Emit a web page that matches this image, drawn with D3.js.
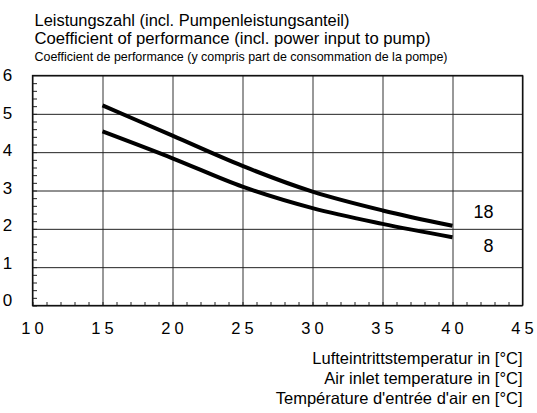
<!DOCTYPE html>
<html>
<head>
  <meta charset="utf-8">
  <title>COP chart</title>
  <script src="https://cdn.jsdelivr.net/npm/d3@7/dist/d3.min.js"></script>
  <style>
    body { margin: 0; background: #fff; }
    text { font-family: Arial, "Liberation Sans", sans-serif; fill: #000; }
  </style>
</head>
<body>
<script>
// data
var temps = [15, 20, 25, 30, 35, 40];
var cop18 = [5.22, 4.43, 3.64, 2.97, 2.48, 2.08];
var cop8 = [4.54, 3.84, 3.10, 2.54, 2.13, 1.78];
var seriesNames = ["18", "8"];
var xTicks = [10, 15, 20, 25, 30, 35, 40, 45];
var yTicks = [0, 1, 2, 3, 4, 5, 6];
var titleLines = [
  "Leistungszahl (incl. Pumpenleistungsanteil)",
  "Coefficient of performance (incl. power input to pump)",
  "Coefficient de performance (y compris part de consommation de la pompe)"
];
var xTitleLines = [
  "Lufteintrittstemperatur in [°C]",
  "Air inlet temperature in [°C]",
  "Température d'entrée d'air en [°C]"
];

var w = 537, h = 413;
var svg = d3.select("body").append("svg").attr("width", w).attr("height", h);

var x = d3.scaleLinear().domain([10, 45]).range([32.5, 522.5]);
var y = d3.scaleLinear().domain([0, 6]).range([305.5, 75.5]);
// the y numbers sit on a slightly tighter spacing than the grid
var yLab = d3.scaleLinear().domain([0, 6]).range([300, 75]);

// grid
svg.append("g")
  .attr("transform", "translate(0," + y(0) + ")")
  .call(d3.axisBottom(x).tickValues(xTicks).tickSize(-(y(0) - y(6))).tickFormat(""))
  .call(function(g) { g.select(".domain").remove(); })
  .selectAll("line").attr("stroke", "#333");

svg.append("g")
  .attr("transform", "translate(" + x(10) + ",0)")
  .call(d3.axisLeft(y).tickValues(yTicks).tickSize(-(x(45) - x(10))).tickFormat(""))
  .call(function(g) { g.select(".domain").remove(); })
  .selectAll("line").attr("stroke", "#222");

// minor ticks
svg.append("g")
  .attr("transform", "translate(0," + y(0) + ")")
  .call(d3.axisBottom(x).tickValues(d3.range(10, 45, 1)).tickSize(-3.5).tickFormat(""))
  .call(function(g) { g.select(".domain").remove(); })
  .selectAll("line").attr("stroke", "#222");

svg.append("g")
  .attr("transform", "translate(" + x(10) + ",0)")
  .call(d3.axisLeft(y).tickValues(d3.range(0, 6, 0.2)).tickSize(-4.5).tickFormat(""))
  .call(function(g) { g.select(".domain").remove(); })
  .selectAll("line").attr("stroke", "#222");

// frame
svg.append("rect")
  .attr("x", x(10)).attr("y", y(6))
  .attr("width", x(45) - x(10)).attr("height", y(0) - y(6))
  .attr("fill", "none").attr("stroke", "#111").attr("stroke-width", 1.3);

// tick labels
svg.selectAll(".ylab").data(yTicks).enter().append("text")
  .attr("class", "ylab")
  .attr("x", 7.5).attr("y", function(d) { return yLab(d); })
  .attr("dy", "0.36em")
  .attr("text-anchor", "middle")
  .attr("font-size", 17)
  .text(function(d) { return d; });

svg.selectAll(".xlab").data(xTicks).enter().append("text")
  .attr("class", "xlab")
  .attr("x", function(d) { return x(d) + 2; })
  .attr("y", 334)
  .attr("text-anchor", "middle")
  .attr("font-size", 16.5)
  .attr("letter-spacing", 4)
  .text(function(d) { return d; });

// curves
var line = d3.line()
  .x(function(d, i) { return x(temps[i]); })
  .y(function(d) { return y(d); })
  .curve(d3.curveMonotoneX);

[cop18, cop8].forEach(function(s) {
  svg.append("path")
    .attr("d", line(s))
    .attr("fill", "none")
    .attr("stroke", "#000")
    .attr("stroke-width", 4);
});

svg.append("text").attr("x", 493.5).attr("y", 218)
  .attr("text-anchor", "end").attr("font-size", 18).text(seriesNames[0]);
svg.append("text").attr("x", 493.5).attr("y", 252)
  .attr("text-anchor", "end").attr("font-size", 18).text(seriesNames[1]);

// titles
svg.append("text").attr("x", 34.5).attr("y", 26).attr("font-size", 16)
  .attr("textLength", 315).attr("lengthAdjust", "spacingAndGlyphs").text(titleLines[0]);
svg.append("text").attr("x", 34.5).attr("y", 44).attr("font-size", 16)
  .attr("textLength", 396).attr("lengthAdjust", "spacingAndGlyphs").text(titleLines[1]);
svg.append("text").attr("x", 34.5).attr("y", 61).attr("font-size", 13)
  .attr("textLength", 413).attr("lengthAdjust", "spacingAndGlyphs").text(titleLines[2]);

svg.selectAll(".xt").data(xTitleLines).enter().append("text")
  .attr("class", "xt")
  .attr("x", 522.5).attr("y", function(d, i) { return 364 + i * 20; })
  .attr("text-anchor", "end")
  .attr("font-size", 16.5)
  .text(function(d) { return d; });
</script>
</body>
</html>
